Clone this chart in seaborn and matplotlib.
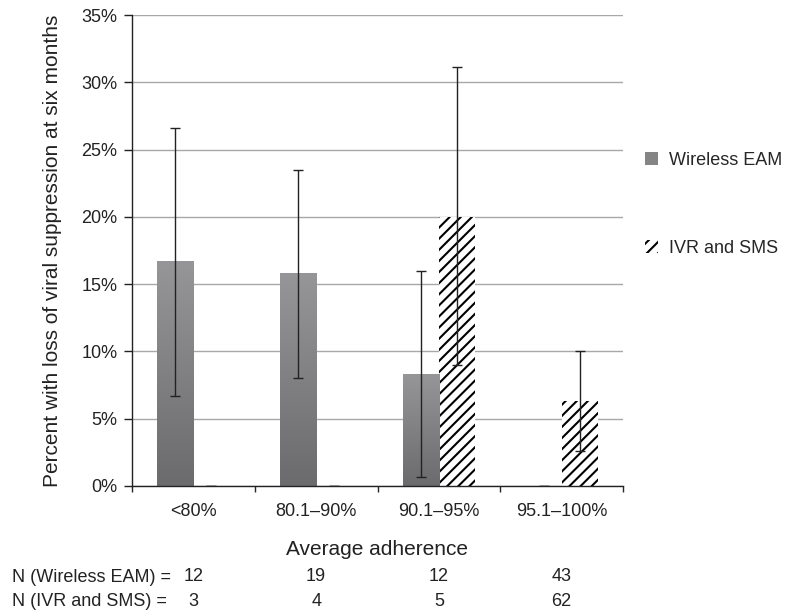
import numpy as np
import pandas as pd
import seaborn as sns
import matplotlib.pyplot as plt
from matplotlib.patches import Patch
from matplotlib.colors import LinearSegmentedColormap

# data
categories = ['<80%', '80.1\u201390%', '90.1\u201395%', '95.1\u2013100%']
groups = ['Wireless EAM', 'IVR and SMS']
eam_pct = [16.7, 15.8, 8.3, 0.0]
eam_lo = [6.7, 8.0, 0.7, 0.0]
eam_hi = [26.6, 23.5, 16.0, 0.0]
ivr_pct = [0.0, 0.0, 20.0, 6.3]
ivr_lo = [0.0, 0.0, 9.0, 2.6]
ivr_hi = [0.0, 0.0, 31.1, 10.0]
n_eam = ['12', '19', '12', '43']
n_ivr = ['3', '4', '5', '62']

df = pd.DataFrame({
    'adherence': categories * 2,
    'group': [groups[0]] * 4 + [groups[1]] * 4,
    'pct': eam_pct + ivr_pct,
})

sns.set_style('white')
plt.rcParams['font.family'] = ['Liberation Sans', 'DejaVu Sans']
plt.rcParams['hatch.linewidth'] = 1.5
txt = '#222222'

fig = plt.figure(figsize=(7.86, 6.13), dpi=100)
ax = fig.add_axes([132 / 786, 0.2072, 491 / 786, 0.7683])

sns.barplot(data=df, x='adherence', y='pct', hue='group', order=categories,
            hue_order=groups, width=0.587, palette=['#858585', 'white'],
            errorbar=None, legend=False, ax=ax, zorder=2)

# gradient on the EAM bars, hatch on the IVR bars
grad = np.linspace(0, 1, 256).reshape(-1, 1)
cmap = LinearSegmentedColormap.from_list('g', ['#6b6b6d', '#969698'])
for bar in ax.containers[0]:
    bar.set_edgecolor('none')
    x0, w, h = bar.get_x(), bar.get_width(), bar.get_height()
    if h <= 0:
        continue
    im = ax.imshow(grad, cmap=cmap, extent=[x0, x0 + w, 0, h],
                   origin='lower', aspect='auto', zorder=2.1)
    im.set_clip_path(bar)
for bar in ax.containers[1]:
    bar.set_facecolor('white')
    bar.set_edgecolor('black')
    bar.set_linewidth(0)
    bar.set_hatch('///')

# error bars
for cont, pct, lo, hi in [(ax.containers[0], eam_pct, eam_lo, eam_hi),
                          (ax.containers[1], ivr_pct, ivr_lo, ivr_hi)]:
    xs = [b.get_x() + b.get_width() / 2 for b in cont]
    yerr = [np.array(pct) - np.array(lo), np.array(hi) - np.array(pct)]
    ax.errorbar(xs, pct, yerr=yerr, fmt='none', ecolor=txt,
                elinewidth=1, capsize=3.6, capthick=1, zorder=3)

ax.set_xlim(-0.5, 3.5)
ax.set_ylim(0, 35)
ax.set_yticks(np.arange(0, 36, 5))
ax.set_yticklabels([f'{v}%' for v in range(0, 36, 5)])
ax.set_xticks(range(4))
ax.set_xticks(np.arange(-0.5, 4, 1), minor=True)
ax.tick_params(axis='x', which='major', length=0, labelsize=13, pad=12.5, colors=txt)
ax.tick_params(axis='x', which='minor', length=4.5, width=1, direction='out', bottom=True)
ax.tick_params(axis='y', length=6, width=1, direction='out', left=True,
               labelsize=13, pad=4.5, colors=txt)
ax.yaxis.grid(True, color='#a8a8a8', linewidth=1, zorder=0)
ax.set_axisbelow(True)
for s in ['top', 'right']:
    ax.spines[s].set_visible(False)
for s in ['left', 'bottom']:
    ax.spines[s].set_color(txt)
    ax.spines[s].set_linewidth(1)

ax.set_xlabel('Average adherence', fontsize=15, color=txt, labelpad=14)
ax.set_ylabel('Percent with loss of viral suppression at six months', fontsize=15,
              color=txt, labelpad=14)

# N rows under the axis
trans = ax.get_xaxis_transform()
fig.text(12 / 786, 1 - 577 / 613, 'N (Wireless EAM) =', fontsize=13, color=txt, va='center')
fig.text(12 / 786, 1 - 602 / 613, 'N (IVR and SMS) =', fontsize=13, color=txt, va='center')
for i in range(4):
    ax.text(i, -0.193, n_eam[i], transform=trans, fontsize=13,
            color=txt, ha='center', va='center')
    ax.text(i, -0.246, n_ivr[i], transform=trans, fontsize=13,
            color=txt, ha='center', va='center')

handles = [Patch(facecolor='#858585', edgecolor='none', label=groups[0]),
           Patch(facecolor='white', edgecolor='black', linewidth=0, hatch='///', label=groups[1])]
fig.legend(handles=handles, loc='upper left', bbox_to_anchor=(0.80, 0.779),
           frameon=False, fontsize=13, handlelength=0.7, handleheight=0.7,
           handletextpad=0.6, labelspacing=3.95)

fig.savefig('out.png', dpi=100)
